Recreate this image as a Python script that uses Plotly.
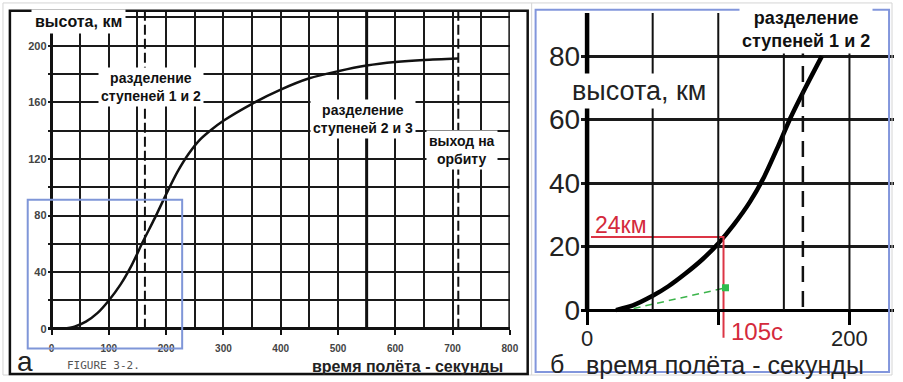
import plotly.graph_objects as go

W, H = 903, 382

# ---------------- data: panel a (full flight) ----------------
a_time = [20, 40, 60, 80, 100, 120, 140, 160, 180, 200, 220, 240, 260, 280, 300, 350, 400, 450, 500, 550, 600, 650, 710]
a_alt = [0, 1.5, 5, 11, 20, 31, 45, 62, 78, 95, 111, 124, 134, 141, 147, 159, 169, 177, 182, 186, 188.5, 190, 191]
a_stage12 = 163
a_stage23 = 550
a_orbit = 710
a_xticks = [0, 100, 200, 300, 400, 500, 600, 700, 800]
a_yticks = [0, 20, 40, 60, 80, 100, 120, 140, 160, 180, 200, 220]
a_ytext = ["0", "", "40", "", "80", "", "120", "", "160", "", "200", ""]

# ---------------- data: panel b (zoomed start) ----------------
b_time = [22, 35, 50, 62, 75, 88, 100, 112, 124, 135, 145, 155, 167, 179]
b_alt = [0, 1.5, 4.5, 7.5, 11.5, 16, 21, 27, 34, 42, 51, 60.5, 70.5, 80]
b_stage12 = 164.5
b_guide_t = [3, 104, 104]
b_guide_h = [23, 23, -8.7]
b_ascent_t = [35.5, 105.5]
b_ascent_h = [0.5, 7.0]
b_xticks = [0, 100, 200]
b_xtext = ["0", "", "200"]
b_yticks = [0, 20, 40, 60, 80]
b_vgrid = [50, 100, 150, 200]

FONT = "Liberation Sans, Arial, sans-serif"


def px(x):
    return x / W


def py(y):
    return 1 - y / H


fig = go.Figure()

fig.add_trace(go.Scatter(x=a_time, y=a_alt, mode="lines", xaxis="x", yaxis="y",
                         line=dict(color="#111", width=2.5, shape="spline", smoothing=0.8),
                         hoverinfo="skip"))
fig.add_trace(go.Scatter(x=b_time, y=b_alt, mode="lines", xaxis="x2", yaxis="y2",
                         line=dict(color="#000", width=4.5, shape="spline", smoothing=0.6),
                         hoverinfo="skip"))
fig.add_trace(go.Scatter(x=b_guide_t, y=b_guide_h, mode="lines", xaxis="x2", yaxis="y2",
                         line=dict(color="#dc3545", width=2), hoverinfo="skip"))
fig.add_trace(go.Scatter(x=b_ascent_t, y=b_ascent_h, mode="lines", xaxis="x2", yaxis="y2",
                         line=dict(color="#3cb44b", width=1.5, dash="7px,5px"), hoverinfo="skip"))
fig.add_trace(go.Scatter(x=[b_ascent_t[-1]], y=[b_ascent_h[-1]], mode="markers", xaxis="x2", yaxis="y2",
                         marker=dict(symbol="square", size=7, color="#2ebd4e"), hoverinfo="skip"))

shapes = []
# outer light border and panel frames
shapes.append(dict(type="rect", xref="paper", yref="paper", x0=px(3), x1=px(901), y0=py(381), y1=py(3),
                   line=dict(color="#d4d4d4", width=1)))
shapes.append(dict(type="line", xref="paper", yref="paper", x0=px(537), x1=px(537), y0=py(381), y1=py(3),
                   line=dict(color="#d4d4d4", width=1)))
shapes.append(dict(type="rect", xref="paper", yref="paper", x0=px(10), x1=px(533), y0=py(380), y1=py(11),
                   line=dict(color="#111", width=2.5)))
shapes.append(dict(type="rect", xref="paper", yref="paper", x0=px(541), x1=px(898), y0=py(378), y1=py(10),
                   line=dict(color="#8296dc", width=2)))
# panel a: event lines
for xv in (a_stage12, a_orbit):
    shapes.append(dict(type="line", xref="x", yref="y", x0=xv, x1=xv, y0=0, y1=224,
                       line=dict(color="#111", width=2, dash="10px,4px")))
for xv in (a_stage23, 800):
    shapes.append(dict(type="line", xref="x", yref="y", x0=xv, x1=xv, y0=0, y1=224,
                       line=dict(color="#111", width=3)))
# panel a: blue zoom box
shapes.append(dict(type="rect", xref="paper", yref="paper", x0=px(28), x1=px(184), y0=py(354), y1=py(203),
                   line=dict(color="#7f96d8", width=2)))
# panel b: vertical grid
for xv in b_vgrid:
    shapes.append(dict(type="line", xref="x2", yref="y2", x0=xv, x1=xv, y0=0, y1=93.6,
                       line=dict(color="#111", width=2)))
shapes.append(dict(type="line", xref="x2", yref="y2", x0=0, x1=0, y0=0, y1=93.6,
                   line=dict(color="#000", width=4.5)))
shapes.append(dict(type="line", xref="x2", yref="y2", x0=b_stage12, x1=b_stage12, y0=1, y1=93.6,
                   line=dict(color="#111", width=2.5, dash="16px,9px")))

annotations = []


def ann(text, x, y, size, color="#111", bg=None, family=FONT, pad=1):
    d = dict(text=text, x=px(x), y=py(y), xref="paper", yref="paper", xanchor="center", yanchor="middle",
             showarrow=False, font=dict(family=family, size=size, color=color), borderpad=pad)
    if bg:
        d["bgcolor"] = bg
    annotations.append(d)


# panel a texts
ann("<b>высота, км</b>", 79, 22, 16, bg="white", pad=3)
ann("<b>разделение<br>ступеней 1 и 2</b>", 153, 88, 14, bg="white", pad=2)
ann("<b>разделение<br>ступеней 2 и 3</b>", 367, 121, 14, bg="white", pad=2)
ann("<b>выход на<br>орбиту</b>", 467, 152, 14, bg="white", pad=2)
ann("а", 25, 367, 28, color="#222")
ann("FIGURE 3-2.", 105, 371, 11, color="#555", family="DejaVu Sans Mono, monospace")
ann("<b>время полёта - секунды</b>", 412, 372, 16, color="#222")
# panel b texts
ann("<b>разделение<br>ступеней 1 и 2</b>", 814, 30, 18, bg="white", pad=2)
ann("высота, км", 645, 92, 27, color="#222", bg="white", pad=2)
ann("24км", 627, 229, 23, color="#d42a3c")
ann("105с", 765, 337, 24, color="#d42a3c")
ann("б", 563, 370, 25, color="#222")
ann("время полёта - секунды", 732, 371, 25, color="#222")

grid_c = "#1a1a1a"
fig.update_layout(
    width=W, height=H, margin=dict(l=0, r=0, t=0, b=0),
    paper_bgcolor="white", plot_bgcolor="white", showlegend=False,
    shapes=shapes, annotations=annotations,
    xaxis=dict(domain=[px(48), px(515)], range=[-7, 800], anchor="y",
               tickmode="array", tickvals=a_xticks, ticks="outside", ticklen=5, tickwidth=2, tickcolor="#111",
               ticklabelstandoff=5,
               showgrid=True, gridcolor=grid_c, gridwidth=1.8,
               minor=dict(tickmode="linear", tick0=0, dtick=50, showgrid=True, gridcolor=grid_c, gridwidth=1.8, ticks=""),
               zeroline=True, zerolinecolor="#111", zerolinewidth=2.5, showline=False,
               tickfont=dict(family=FONT, size=10, color="#444", weight="bold")),
    yaxis=dict(domain=[py(334), py(12)], range=[0, 224], anchor="x",
               tickmode="array", tickvals=a_yticks, ticktext=a_ytext, ticks="",
               showgrid=True, gridcolor=grid_c, gridwidth=1.8,
               zeroline=True, zerolinecolor="#111", zerolinewidth=2.5, showline=False,
               tickfont=dict(family=FONT, size=11, color="#444", weight="bold")),
    xaxis2=dict(domain=[px(587), 1.0], range=[-4.53, 233.96], anchor="free", position=py(315),
                tickmode="array", tickvals=b_xticks, ticktext=b_xtext, ticks="outside", ticklen=13, tickwidth=3,
                tickcolor="#000", showline=True, linecolor="#000", linewidth=3, showgrid=False, zeroline=False,
                ticklabelstandoff=-5, tickfont=dict(family=FONT, size=22, color="#222")),
    yaxis2=dict(domain=[py(347), py(13)], range=[-9.92, 93.64], anchor="x2",
                tickmode="array", tickvals=b_yticks, ticks="", showgrid=True, gridcolor=grid_c, gridwidth=2.5,
                zeroline=False, showline=False, tickfont=dict(family=FONT, size=28, color="#222")),
)

fig.write_html("out.html", config={"displayModeBar": False},
               post_script="document.body.style.margin='0';document.body.style.overflow='hidden';")
